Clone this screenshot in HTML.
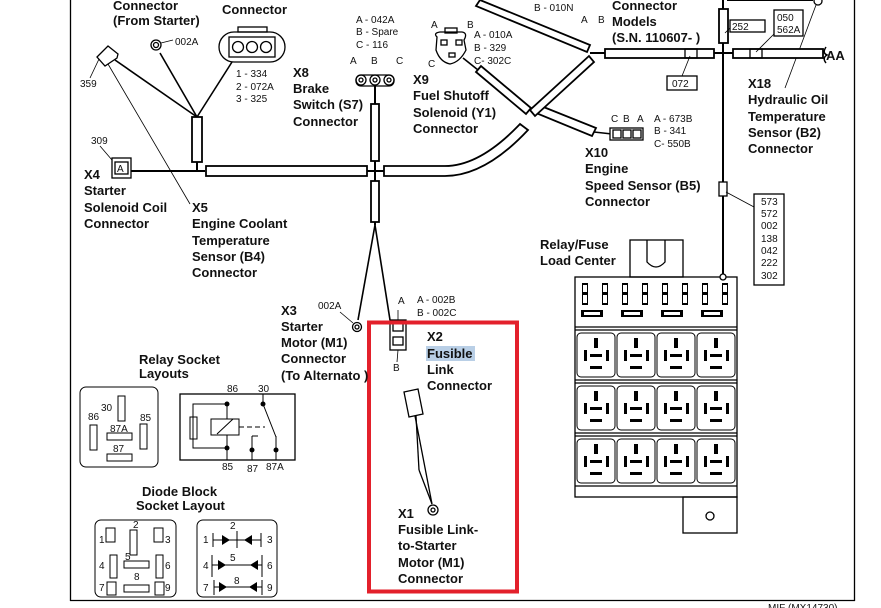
<!DOCTYPE html>
<html><head><meta charset="utf-8"><style>
html,body{margin:0;padding:0;background:#fff;width:881px;height:608px;overflow:hidden}
svg{display:block}
.b{font-family:"Liberation Sans",sans-serif;font-weight:bold;font-size:13px;fill:#111}
.s{font-family:"Liberation Sans",sans-serif;font-size:10px;fill:#111}
</style></head><body>
<svg width="881" height="608" viewBox="0 0 881 608" xmlns="http://www.w3.org/2000/svg">
<g stroke="#000" fill="none" stroke-width="1.3">
<!-- frame -->
<line x1="70.5" y1="0" x2="70.5" y2="601"/>
<line x1="70" y1="600.5" x2="855" y2="600.5"/>
<line x1="854.5" y1="0" x2="854.5" y2="601"/>
<!-- left harness -->
<line x1="131" y1="171" x2="205" y2="171" stroke-width="2"/>
<rect x="112" y="158" width="19" height="20" fill="#fff"/>
<rect x="115" y="162" width="13" height="12"/>
<line x1="112" y1="160" x2="100" y2="146" stroke-width="0.8"/>
<rect x="192" y="117" width="10" height="45" fill="#fff" stroke-width="1.8"/>
<line x1="197" y1="162" x2="197" y2="171" stroke-width="2"/>
<line x1="197" y1="117" x2="115" y2="60" stroke-width="1.6"/>
<line x1="197" y1="117" x2="160" y2="53" stroke-width="1.6"/>
<line x1="197" y1="117" x2="232" y2="62" stroke-width="1.6"/>
<polygon points="97,57 108,46 118,54 117,58 105,66" fill="#fff"/>
<line x1="99" y1="59" x2="90" y2="78" stroke-width="0.8"/>
<line x1="108" y1="64" x2="190" y2="204" stroke-width="0.8"/>
<circle cx="156" cy="45" r="5"/><circle cx="156" cy="45" r="2.5"/>
<line x1="161" y1="43" x2="173" y2="40" stroke-width="0.8"/>
<rect x="219" y="32" width="66" height="30" rx="15" fill="#fff"/>
<rect x="238" y="27" width="29" height="5"/>
<rect x="229" y="37" width="46" height="20"/>
<circle cx="238" cy="47" r="5.5"/><circle cx="252" cy="47" r="5.5"/><circle cx="266" cy="47" r="5.5"/>
<!-- main horizontal -->
<rect x="206" y="166" width="161" height="10" fill="#fff" stroke-width="1.8"/>
<line x1="367" y1="171" x2="384" y2="171" stroke-width="2"/>
<path d="M384,166 L445,166 Q480,166 520,124 L528,130 Q485,176 445,176 L384,176 Z" fill="#fff" stroke-width="1.8"/>
<!-- vertical X8 -->
<line x1="375" y1="85" x2="375" y2="225" stroke-width="2"/>
<rect x="371" y="104" width="8" height="57" fill="#fff" stroke-width="1.8"/>
<rect x="371" y="181" width="8" height="41" fill="#fff" stroke-width="1.8"/>
<rect x="356" y="75" width="38" height="11" rx="5" fill="#fff"/>
<circle cx="361" cy="80" r="5"/><circle cx="375" cy="80" r="5"/><circle cx="389" cy="80" r="5"/>
<circle cx="361" cy="80" r="2"/><circle cx="375" cy="80" r="2"/><circle cx="389" cy="80" r="2"/>
<line x1="375" y1="225" x2="358" y2="320" stroke-width="1.6"/>
<line x1="375" y1="225" x2="390" y2="320" stroke-width="1.6"/>
<!-- X9 -->
<path d="M437,37 Q433,33 440,32 L462,32 Q468,33 464,40 L466,50 Q460,62 450,64 Q440,62 436,50 Z" fill="#fff"/>
<rect x="445" y="28" width="12" height="5"/>
<rect x="441" y="40" width="6" height="5"/><rect x="456" y="40" width="6" height="5"/><rect x="449" y="53" width="6" height="4"/>
<line x1="463" y1="58" x2="478" y2="70" stroke-width="1.6"/>
<polygon points="476,72 481,66 531,108 526,114" fill="#fff" stroke-width="1.8"/>
<polygon points="536,113 541,106 596,128 592,136" fill="#fff" stroke-width="1.8"/>
<line x1="594" y1="132" x2="612" y2="134" stroke-width="1.6"/>
<rect x="610" y="128" width="33" height="12" fill="#fff"/>
<rect x="613" y="130" width="8" height="8"/><rect x="623" y="130" width="8" height="8"/><rect x="633" y="130" width="8" height="8"/>
<polygon points="530,110 535,116 594,62 589,56" fill="#fff" stroke-width="1.8"/>
<polygon points="480,0 476,6 587,52 590,45" fill="#fff" stroke-width="1.8"/>
<line x1="590" y1="53" x2="605" y2="53" stroke-width="2"/>
<rect x="605" y="49" width="109" height="9" fill="#fff" stroke-width="1.8"/>
<rect x="685" y="49" width="12" height="9"/>
<line x1="714" y1="53" x2="733" y2="53" stroke-width="2"/>
<line x1="690" y1="56" x2="682" y2="76" stroke-width="0.8"/>
<rect x="667" y="76" width="30" height="14"/>
<!-- right vertical -->
<line x1="723" y1="0" x2="723" y2="277" stroke-width="2"/>
<rect x="719" y="9" width="9" height="34" fill="#fff" stroke-width="1.8"/>
<line x1="727" y1="0" x2="813" y2="0" stroke-width="2"/>
<circle cx="818" cy="1" r="4"/>
<line x1="816" y1="5" x2="785" y2="88" stroke-width="0.8"/>
<rect x="730" y="20" width="35" height="12"/>
<line x1="730" y1="28" x2="725" y2="33" stroke-width="0.8"/>
<rect x="733" y="49" width="90" height="9" fill="#fff" stroke-width="1.8"/>
<rect x="750" y="49" width="12" height="9"/>
<line x1="756" y1="52" x2="774" y2="34" stroke-width="0.8"/>
<rect x="774" y="10" width="29" height="26"/>
<path d="M826,47 Q822,53 827,55 Q822,58 826,63" stroke-width="1.5"/>
<rect x="719" y="182" width="8" height="14" fill="#fff"/>
<line x1="726" y1="192" x2="754" y2="207" stroke-width="0.8"/>
<rect x="754" y="194" width="30" height="91"/>
<!-- load center -->
<rect x="630" y="240" width="53" height="37"/>
<path d="M647,240 L647,262 Q656,272 665,262 L665,240"/>
<rect x="575" y="277" width="162" height="220"/>
<line x1="575" y1="327" x2="737" y2="327"/>
<line x1="575" y1="330" x2="737" y2="330"/>
<line x1="575" y1="380" x2="737" y2="380"/>
<line x1="575" y1="383" x2="737" y2="383"/>
<line x1="575" y1="433" x2="737" y2="433"/>
<line x1="575" y1="436" x2="737" y2="436"/>
<line x1="575" y1="486" x2="737" y2="486"/>
<rect x="683" y="497" width="54" height="36"/>
<circle cx="710" cy="516" r="4"/>
<circle cx="723" cy="277" r="3" fill="#fff"/>
</g>
<g fill="#000">
<!-- fuses -->
<g id="fz"><rect x="582" y="283" width="6" height="22"/><rect x="583" y="285" width="4" height="18" fill="#fff"/><rect x="582" y="292" width="6" height="3"/></g>
<use href="#fz" x="20"/><use href="#fz" x="40"/><use href="#fz" x="60"/><use href="#fz" x="80"/><use href="#fz" x="100"/><use href="#fz" x="120"/><use href="#fz" x="140"/>
<rect x="581" y="310" width="22" height="7"/><rect x="621" y="310" width="22" height="7"/><rect x="661" y="310" width="22" height="7"/><rect x="701" y="310" width="22" height="7"/>
<rect x="584" y="312" width="16" height="3" fill="#fff"/><rect x="624" y="312" width="16" height="3" fill="#fff"/><rect x="664" y="312" width="16" height="3" fill="#fff"/><rect x="704" y="312" width="16" height="3" fill="#fff"/>
</g>
<g id="rrow" fill="none" stroke="#000" stroke-width="1">
<rect x="577" y="333" width="38" height="44" rx="4"/><rect x="617" y="333" width="38" height="44" rx="4"/><rect x="657" y="333" width="38" height="44" rx="4"/><rect x="697" y="333" width="38" height="44" rx="4"/>
<g fill="#000" stroke="none">
<rect x="594" y="338" width="4" height="10"/><rect x="634" y="338" width="4" height="10"/><rect x="674" y="338" width="4" height="10"/><rect x="714" y="338" width="4" height="10"/>
<rect x="584" y="350" width="3" height="11"/><rect x="606" y="350" width="3" height="11"/><rect x="624" y="350" width="3" height="11"/><rect x="646" y="350" width="3" height="11"/>
<rect x="664" y="350" width="3" height="11"/><rect x="686" y="350" width="3" height="11"/><rect x="704" y="350" width="3" height="11"/><rect x="726" y="350" width="3" height="11"/>
<rect x="590" y="354" width="12" height="3"/><rect x="630" y="354" width="12" height="3"/><rect x="670" y="354" width="12" height="3"/><rect x="710" y="354" width="12" height="3"/>
<rect x="590" y="366" width="12" height="3"/><rect x="630" y="366" width="12" height="3"/><rect x="670" y="366" width="12" height="3"/><rect x="710" y="366" width="12" height="3"/>
</g></g>
<use href="#rrow" y="53"/><use href="#rrow" y="106"/>
<!-- relay socket layouts -->
<g stroke="#000" fill="none" stroke-width="1">
<rect x="80" y="387" width="78" height="80" rx="6"/>
<rect x="118" y="396" width="7" height="25"/><rect x="90" y="425" width="7" height="25"/><rect x="140" y="424" width="7" height="25"/>
<rect x="107" y="433" width="25" height="7"/><rect x="107" y="454" width="25" height="7"/>
<rect x="180" y="394" width="115" height="66" stroke-width="1.3"/>
<polyline points="227,404 193,404 193,448 227,448"/><rect x="190" y="417" width="7" height="22"/>
<rect x="211" y="419" width="28" height="16"/><line x1="217" y1="434" x2="233" y2="419"/>
<line x1="227" y1="404" x2="227" y2="419"/><line x1="227" y1="435" x2="227" y2="460"/>
<line x1="239" y1="427" x2="265" y2="427" stroke-dasharray="5,3"/>
<line x1="263" y1="404" x2="276" y2="437"/><line x1="263" y1="394" x2="263" y2="404"/>
<line x1="276" y1="436" x2="276" y2="460"/><line x1="252" y1="436" x2="252" y2="460"/><line x1="252" y1="436" x2="258" y2="436"/>
<rect x="95" y="520" width="81" height="77" rx="6"/>
<rect x="197" y="520" width="80" height="77" rx="6"/>
<rect x="106" y="528" width="9" height="14"/><rect x="130" y="530" width="7" height="25"/><rect x="154" y="528" width="9" height="14"/>
<rect x="110" y="555" width="7" height="23"/><rect x="156" y="555" width="7" height="23"/><rect x="124" y="561" width="25" height="7"/>
<rect x="107" y="582" width="9" height="13"/><rect x="124" y="585" width="25" height="7"/><rect x="155" y="582" width="9" height="13"/>
<line x1="213" y1="540" x2="261" y2="540"/><line x1="213" y1="533" x2="213" y2="547"/><line x1="261" y1="533" x2="261" y2="547"/><line x1="237" y1="531" x2="237" y2="548"/>
<line x1="212" y1="565" x2="262" y2="565"/><line x1="212" y1="555" x2="212" y2="577"/><line x1="262" y1="555" x2="262" y2="577"/>
<line x1="214" y1="587" x2="262" y2="587"/><line x1="214" y1="580" x2="214" y2="595"/><line x1="262" y1="580" x2="262" y2="595"/>
</g>
<g fill="#000">
<circle cx="227" cy="404" r="2.5"/><circle cx="227" cy="448" r="2.5"/><circle cx="263" cy="404" r="2.5"/><circle cx="252" cy="450" r="2.5"/><circle cx="276" cy="450" r="2.5"/>
<polygon points="222,535 222,545 230,540"/><polygon points="252,535 252,545 244,540"/>
<polygon points="218,560 218,570 226,565"/><polygon points="258,560 258,570 250,565"/>
<polygon points="219,582 219,592 227,587"/><polygon points="257,582 257,592 249,587"/>
</g>
<!-- X3, X2, X1 -->
<g stroke="#000" fill="none" stroke-width="1.3">
<circle cx="357" cy="327" r="4.5"/><circle cx="357" cy="327" r="2"/>
<line x1="353" y1="323" x2="340" y2="312" stroke-width="0.8"/>
<rect x="390" y="320" width="16" height="30" fill="#fff"/><rect x="393" y="323" width="10" height="8"/><rect x="393" y="337" width="10" height="8"/>
<line x1="398" y1="310" x2="398" y2="320" stroke-width="0.8"/><line x1="398" y1="350" x2="397" y2="362" stroke-width="0.8"/>
<polygon points="404,392 418,389 423,414 409,417" fill="#fff"/>
<line x1="415" y1="416" x2="432" y2="504"/><line x1="416" y1="416" x2="419" y2="470"/><line x1="419" y1="470" x2="432" y2="504"/>
<circle cx="433" cy="510" r="5"/><circle cx="433" cy="510" r="2"/>
</g>
<rect x="369" y="322.5" width="148" height="269" fill="none" stroke="#e3202b" stroke-width="4"/>
<rect x="426" y="346" width="49" height="15" fill="#b9cfe6"/>
<!-- text -->
<text class="b" x="113" y="10">Connector</text><text class="b" x="113" y="25">(From Starter)</text>
<text class="b" x="222" y="14">Connector</text>
<text class="s" x="175" y="45">002A</text><text class="s" x="80" y="87">359</text>
<text class="s" x="236" y="77">1 - 334</text><text class="s" x="236" y="90">2 - 072A</text><text class="s" x="236" y="102">3 - 325</text>
<text class="b" x="293" y="77">X8</text><text class="b" x="293" y="93">Brake</text><text class="b" x="293" y="109">Switch (S7)</text><text class="b" x="293" y="126">Connector</text>
<text class="s" x="356" y="23">A - 042A</text><text class="s" x="356" y="35">B - Spare</text><text class="s" x="356" y="48">C - 116</text>
<text class="s" x="350" y="64">A</text><text class="s" x="371" y="64">B</text><text class="s" x="396" y="64">C</text>
<text class="s" x="91" y="144">309</text><text class="s" x="117" y="172">A</text>
<text class="b" x="84" y="179">X4</text><text class="b" x="84" y="195">Starter</text><text class="b" x="84" y="212">Solenoid Coil</text><text class="b" x="84" y="228">Connector</text>
<text class="b" x="192" y="212">X5</text><text class="b" x="192" y="228">Engine Coolant</text><text class="b" x="192" y="245">Temperature</text><text class="b" x="192" y="261">Sensor (B4)</text><text class="b" x="192" y="277">Connector</text>
<text class="s" x="431" y="28">A</text><text class="s" x="467" y="28">B</text><text class="s" x="428" y="67">C</text>
<text class="s" x="474" y="38">A - 010A</text><text class="s" x="474" y="51">B - 329</text><text class="s" x="474" y="64">C- 302C</text>
<text class="b" x="413" y="84">X9</text><text class="b" x="413" y="100">Fuel Shutoff</text><text class="b" x="413" y="117">Solenoid (Y1)</text><text class="b" x="413" y="133">Connector</text>
<text class="s" x="534" y="11">B - 010N</text><text class="s" x="581" y="23">A</text><text class="s" x="598" y="23">B</text>
<text class="b" x="612" y="10">Connector</text><text class="b" x="612" y="26">Models</text><text class="b" x="612" y="42">(S.N. 110607- )</text>
<text class="s" x="732" y="30">252</text><text class="s" x="777" y="21">050</text><text class="s" x="777" y="33">562A</text>
<text class="b" x="826" y="60">AA</text><text class="s" x="672" y="87">072</text>
<text class="s" x="611" y="122">C</text><text class="s" x="623" y="122">B</text><text class="s" x="637" y="122">A</text>
<text class="s" x="654" y="122">A - 673B</text><text class="s" x="654" y="134">B - 341</text><text class="s" x="654" y="147">C- 550B</text>
<text class="b" x="585" y="157">X10</text><text class="b" x="585" y="173">Engine</text><text class="b" x="585" y="190">Speed Sensor (B5)</text><text class="b" x="585" y="206">Connector</text>
<text class="b" x="748" y="88">X18</text><text class="b" x="748" y="104">Hydraulic Oil</text><text class="b" x="748" y="121">Temperature</text><text class="b" x="748" y="137">Sensor (B2)</text><text class="b" x="748" y="153">Connector</text>
<text class="b" x="540" y="249">Relay/Fuse</text><text class="b" x="540" y="265">Load Center</text>
<text class="s" x="761" y="205">573</text><text class="s" x="761" y="217">572</text><text class="s" x="761" y="229">002</text><text class="s" x="761" y="242">138</text><text class="s" x="761" y="254">042</text><text class="s" x="761" y="266">222</text><text class="s" x="761" y="279">302</text>
<text class="s" x="318" y="309">002A</text>
<text class="b" x="281" y="315">X3</text><text class="b" x="281" y="331">Starter</text><text class="b" x="281" y="347">Motor (M1)</text><text class="b" x="281" y="363">Connector</text><text class="b" x="281" y="380">(To Alternato )</text>
<text class="s" x="398" y="304">A</text><text class="s" x="417" y="303">A - 002B</text><text class="s" x="417" y="316">B - 002C</text><text class="s" x="393" y="371">B</text>
<text class="b" x="427" y="341">X2</text><text class="b" x="427" y="358">Fusible</text><text class="b" x="427" y="374">Link</text><text class="b" x="427" y="390">Connector</text>
<text class="b" x="398" y="518">X1</text><text class="b" x="398" y="534">Fusible Link-</text><text class="b" x="398" y="550">to-Starter</text><text class="b" x="398" y="567">Motor (M1)</text><text class="b" x="398" y="583">Connector</text>
<text class="b" x="139" y="364">Relay Socket</text><text class="b" x="139" y="378">Layouts</text>
<text class="s" x="227" y="392">86</text><text class="s" x="258" y="392">30</text><text class="s" x="222" y="470">85</text><text class="s" x="247" y="472">87</text><text class="s" x="266" y="470">87A</text>
<text class="s" x="88" y="420">86</text><text class="s" x="101" y="411">30</text><text class="s" x="140" y="421">85</text><text class="s" x="110" y="432">87A</text><text class="s" x="113" y="452">87</text>
<text class="b" x="142" y="496">Diode Block</text><text class="b" x="136" y="510">Socket Layout</text>
<text class="s" x="133" y="528">2</text><text class="s" x="99" y="543">1</text><text class="s" x="165" y="543">3</text><text class="s" x="99" y="569">4</text><text class="s" x="125" y="560">5</text><text class="s" x="165" y="569">6</text><text class="s" x="134" y="580">8</text><text class="s" x="99" y="591">7</text><text class="s" x="165" y="591">9</text>
<text class="s" x="230" y="529">2</text><text class="s" x="203" y="543">1</text><text class="s" x="267" y="543">3</text><text class="s" x="203" y="569">4</text><text class="s" x="230" y="561">5</text><text class="s" x="267" y="569">6</text><text class="s" x="234" y="584">8</text><text class="s" x="203" y="591">7</text><text class="s" x="267" y="591">9</text>
<text class="s" x="768" y="611">MIF (MX14730)</text>
</svg>
</body></html>
